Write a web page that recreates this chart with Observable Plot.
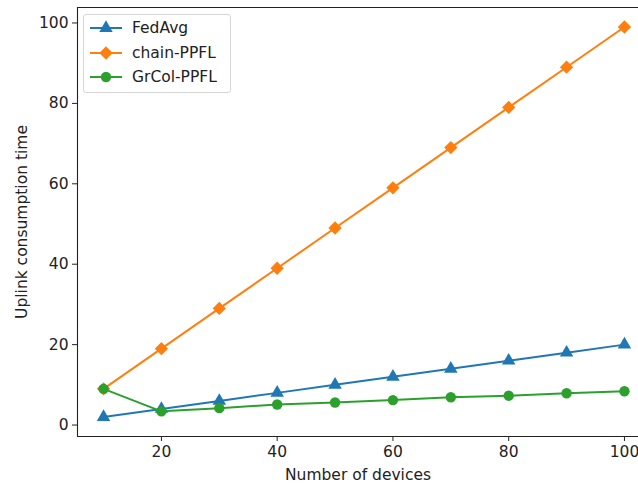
<!DOCTYPE html>
<html>
<head>
<meta charset="utf-8">
<script src="https://cdn.jsdelivr.net/npm/d3@7"></script>
<script src="https://cdn.jsdelivr.net/npm/@observablehq/plot@0.6"></script>
<style>
  html, body { margin: 0; padding: 0; background: #fff; }
  #wrap { position: relative; width: 638px; height: 485px; overflow: hidden; font-family: "DejaVu Sans", sans-serif; }
  #legend { position: absolute; left: 83px; top: 14px; width: 148px; height: 79px; box-sizing: border-box;
    border: 1px solid #d6d6d6; border-radius: 3px; background: rgba(255,255,255,0.8); font-size: 15.5px; color: #222; }
  .item { position: absolute; left: 5px; height: 20px; display: flex; align-items: center; }
  .item span { margin-left: 9px; }
</style>
</head>
<body>
<div id="wrap"><div id="chart"></div><div id="legend"></div></div>
<script>
const devices = [10, 20, 30, 40, 50, 60, 70, 80, 90, 100];
const fedAvg = [2, 4, 6, 8, 10, 12, 14, 16, 18, 20];
const chainPPFL = [9, 19, 29, 39, 49, 59, 69, 79, 89, 99];
const grColPPFL = [9, 3.4, 4.2, 5.1, 5.6, 6.2, 6.9, 7.3, 7.9, 8.4];
const seriesNames = ["FedAvg", "chain-PPFL", "GrCol-PPFL"];
const seriesColors = ["#1f77b4", "#ff7f0e", "#2ca02c"];
const seriesSymbols = ["triangle", "diamond2", "circle"];
const seriesR = [5, 6, 5.2];
const xTicks = [20, 40, 60, 80, 100];
const yTicks = [0, 20, 40, 60, 80, 100];

const allValues = [fedAvg, chainPPFL, grColPPFL];
const data = [];
allValues.forEach((vals, s) => vals.forEach((v, i) => data.push({series: seriesNames[s], x: devices[i], y: v})));

const marks = [];
seriesNames.forEach((name, s) => {
  const d = data.filter(p => p.series === name);
  marks.push(Plot.line(d, {x: "x", y: "y", stroke: seriesColors[s], strokeWidth: 2}));
  marks.push(Plot.dot(d, {x: "x", y: "y", fill: seriesColors[s], stroke: "none", symbol: () => seriesSymbols[s], r: seriesR[s]}));
});

const xDom = [5.5, 104.5];
const yDom = [-2.85, 103.85];

const chart = Plot.plot({
  width: 638,
  height: 485,
  marginLeft: 77,
  marginTop: 7,
  marginBottom: 49,
  marginRight: 0,
  style: {fontFamily: "DejaVu Sans, sans-serif", fontSize: "15.5px", color: "#222", background: "white"},
  x: {domain: xDom, range: [77, 650]},
  y: {domain: yDom},
  marks: [
    Plot.axisX({ticks: xTicks, tickSize: 5, tickPadding: 4, label: "Number of devices", labelAnchor: "center", labelArrow: "none", labelOffset: 43, fontSize: 15.5}),
    Plot.axisY({ticks: yTicks, tickSize: 5, tickPadding: 4, label: "Uplink consumption time", labelAnchor: "center", labelArrow: "none", labelOffset: 62, fontSize: 15.5}),
    ...marks,
    Plot.ruleX([xDom[0]], {stroke: "#222", strokeWidth: 1.1}),
    Plot.ruleY([yDom[0], yDom[1]], {stroke: "#222", strokeWidth: 1.1})
  ]
});
document.getElementById("chart").appendChild(chart);

// legend
const legend = document.getElementById("legend");
seriesNames.forEach((name, s) => {
  const item = document.createElement("div");
  item.className = "item";
  item.style.top = (3 + s * 24.5) + "px";
  const svg = d3.create("svg").attr("width", 34).attr("height", 20);
  svg.append("line").attr("x1", 1).attr("x2", 33).attr("y1", 10).attr("y2", 10).attr("stroke", seriesColors[s]).attr("stroke-width", 2);
  const sym = {triangle: d3.symbolTriangle, diamond2: d3.symbolDiamond2, circle: d3.symbolCircle}[seriesSymbols[s]];
  svg.append("path").attr("transform", "translate(17,10)").attr("d", d3.symbol(sym, Math.PI * seriesR[s] * seriesR[s])()).attr("fill", seriesColors[s]);
  item.appendChild(svg.node());
  const t = document.createElement("span");
  t.textContent = name;
  item.appendChild(t);
  legend.appendChild(item);
});
</script>
</body>
</html>
